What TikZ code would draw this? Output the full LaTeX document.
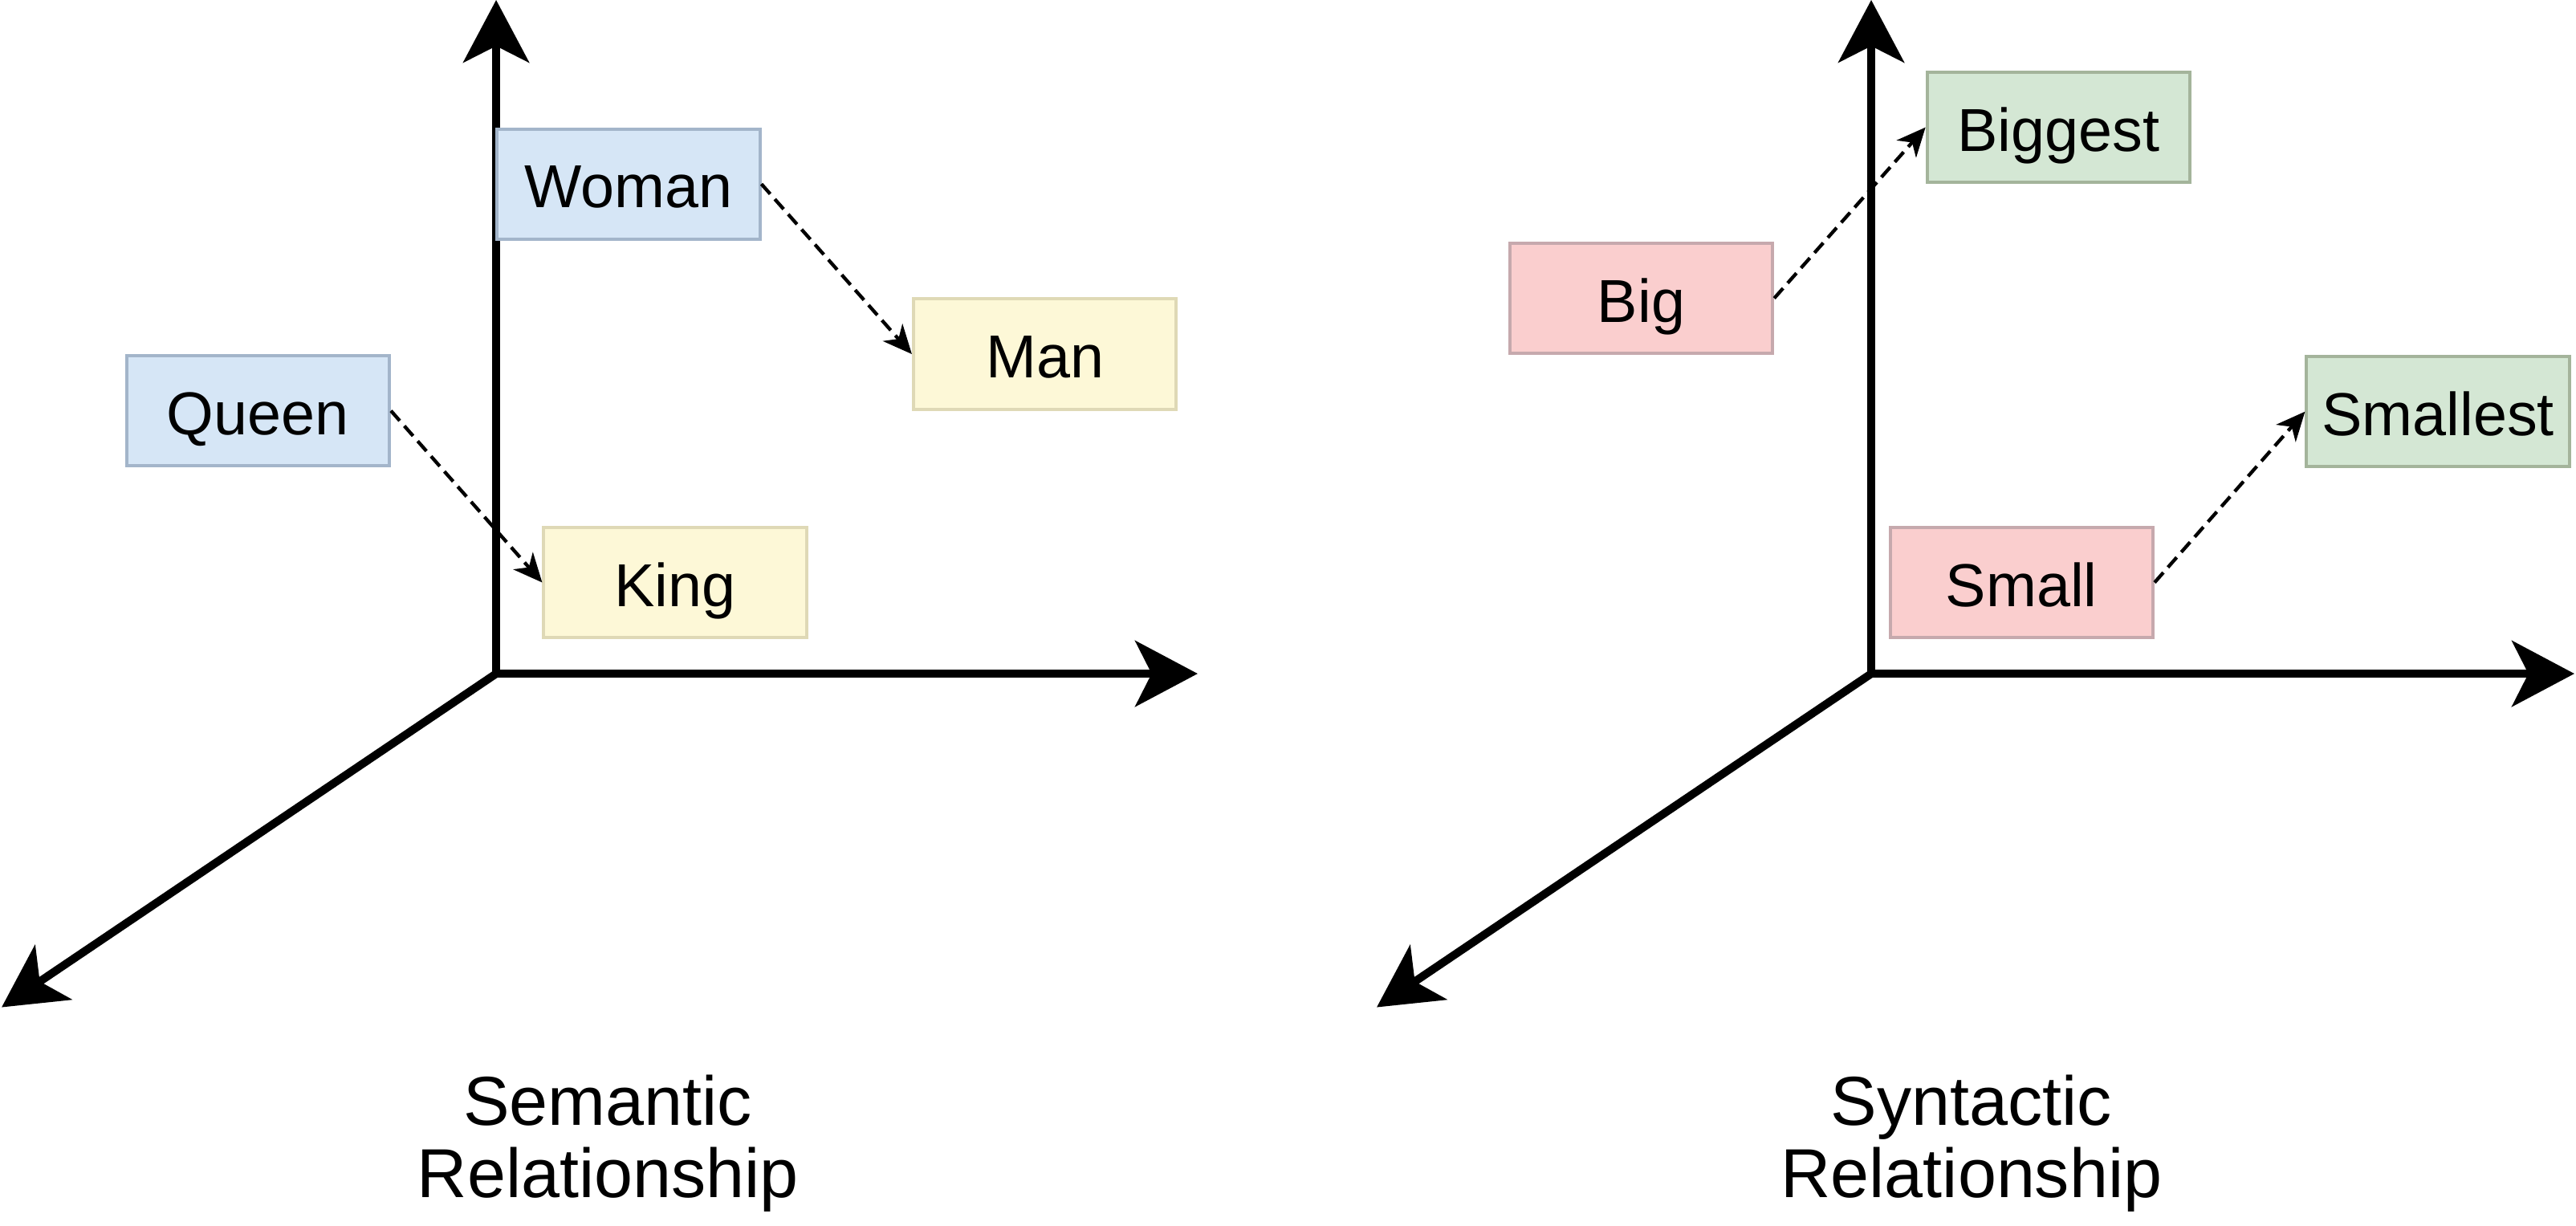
\documentclass[tikz,border=0pt]{standalone}
\usepackage{fontspec}
\setmainfont{Liberation Sans}
\usepackage{tikz}
\usetikzlibrary{arrows.meta,positioning}
\usepackage{xcolor}

\definecolor{bluefill}{HTML}{D6E6F6}
\definecolor{blueline}{HTML}{A3B5CA}
\definecolor{yellowfill}{HTML}{FDF8D7}
\definecolor{yellowline}{HTML}{DFD9B6}
\definecolor{redfill}{HTML}{FACECE}
\definecolor{redline}{HTML}{C6A9AD}
\definecolor{greenfill}{HTML}{D4E7D4}
\definecolor{greenline}{HTML}{A4B49B}

\begin{document}
\begin{tikzpicture}[
    axis/.style={line width=2.8pt, -{Stealth[length=0.76cm, width=0.8cm, inset=0.2cm]}},
    word/.style={draw, line width=1.1pt, rectangle, minimum width=3.2cm, minimum height=1.34cm,
        inner sep=0pt, text height=0.58cm, text depth=0pt, font=\fontsize{21}{24}\selectfont},
    offset/.style={line width=1.2pt, dash pattern=on 4.6pt off 2.4pt,
        -{Stealth[length=10pt, width=9pt, inset=3pt]}}
]
    \useasboundingbox (0,0) rectangle (31.36,14.92);

    % semantic axes
    \coordinate (o1) at (6.04,6.72);
    \coordinate (up1) at (6.04,14.92);
    \coordinate (right1) at (14.58,6.72);
    \coordinate (depth1) at (0.02,2.66);
    \draw[axis] (o1) -- (up1);
    \draw[axis] (o1) -- (right1);
    \draw[axis] (o1) -- (depth1);

    % syntactic axes
    \coordinate (o2) at (22.78,6.72);
    \coordinate (up2) at (22.78,14.92);
    \coordinate (right2) at (31.34,6.72);
    \coordinate (depth2) at (16.76,2.66);
    \draw[axis] (o2) -- (up2);
    \draw[axis] (o2) -- (right2);
    \draw[axis] (o2) -- (depth2);

    \node[word, fill=bluefill, draw=blueline] (woman) at (7.65,12.68) {Woman};
    \node[word, fill=yellowfill, draw=yellowline] (man) at (12.72,10.61) {Man};
    \node[word, fill=bluefill, draw=blueline] (queen) at (3.14,9.92) {Queen};
    \node[word, fill=yellowfill, draw=yellowline] (king) at (8.22,7.83) {King};

    \node[word, fill=redfill, draw=redline] (big) at (19.98,11.29) {Big};
    \node[word, fill=greenfill, draw=greenline] (biggest) at (25.06,13.37) {Biggest};
    \node[word, fill=redfill, draw=redline] (small) at (24.61,7.83) {Small};
    \node[word, fill=greenfill, draw=greenline] (smallest) at (29.68,9.91) {Smallest};

    \draw[offset] (woman.east) -- (man.west);
    \draw[offset] (queen.east) -- (king.west);
    \draw[offset] (big.east) -- (biggest.west);
    \draw[offset] (small.east) -- (smallest.west);

    \node[align=center, font=\fontsize{24}{25}\selectfont] (semantic) at (7.4,1.0) {Semantic\\Relationship};
    \node[align=center, font=\fontsize{24}{25}\selectfont] (syntactic) at (24.0,1.0) {Syntactic\\Relationship};

\end{tikzpicture}
\end{document}
